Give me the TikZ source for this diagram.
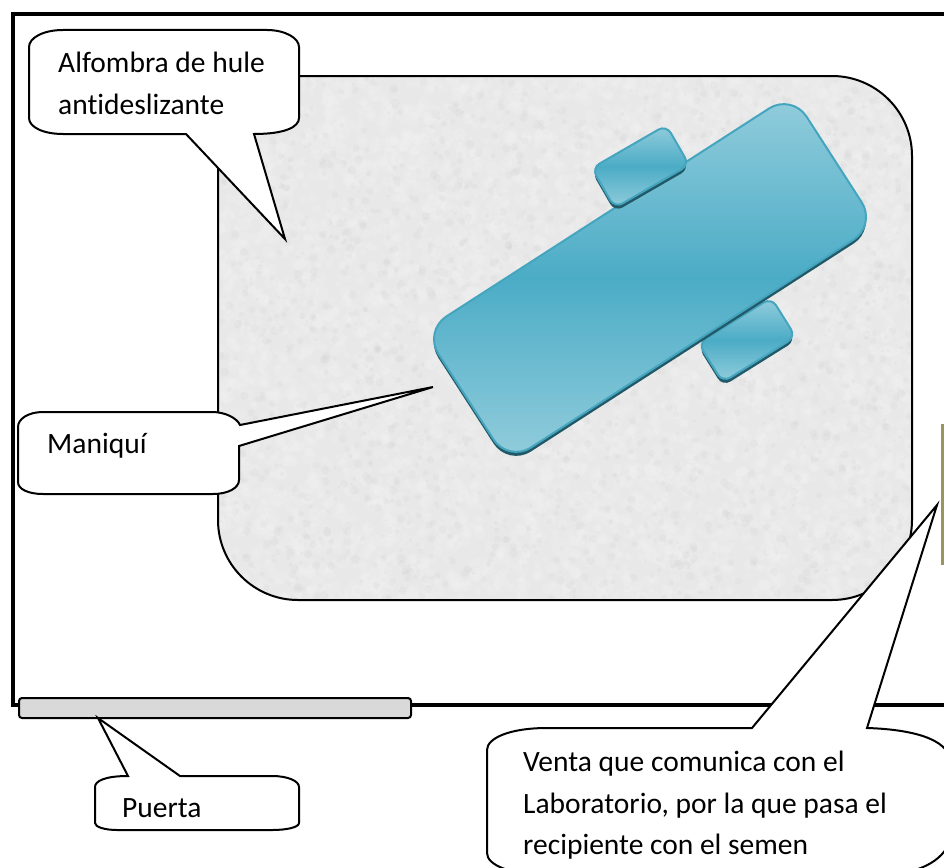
\documentclass[tikz,border=0pt]{standalone}
\usepackage{fontspec}
\setmainfont[Ligatures=NoCommon]{Carlito}
\usepackage{tikz}

\definecolor{boardlight}{HTML}{93CDDC}
\definecolor{boardmid}{HTML}{4BACC6}
\definecolor{boardline}{HTML}{45A5BF}
\definecolor{boarddark}{HTML}{215968}
\definecolor{ventana}{HTML}{9A9460}

\tikzset{
  wall/.style={line width=4pt},
  callout/.style={draw=black,fill=white,line width=2pt,line join=miter},
  calloutText/.style={inner sep=0pt,align=left,anchor=base west,font=\fontsize{29.5}{41}\selectfont},
  speck/.style={fill=#1,opacity=0.1}
}

% table top or pad: center x, center y, width, height, radius, angle, half range of the gradient
\newcommand{\boardpad}[7]{
  \fill[boarddark,rounded corners=#5,shift={(#1,#2+4)},rotate=#6] ({-#3/2},{-#4/2}) rectangle ({#3/2},{#4/2});
  \begin{scope}
    \clip[rounded corners=#5,shift={(#1,#2)},rotate=#6] ({-#3/2},{-#4/2}) rectangle ({#3/2},{#4/2});
    \shade[top color=boardlight,bottom color=boardlight,middle color=boardmid] (#1-300,#2-#7) rectangle (#1+300,#2+#7);
  \end{scope}
  \draw[boardline,line width=2pt,rounded corners=#5,shift={(#1,#2)},rotate=#6] ({-#3/2},{-#4/2}) rectangle ({#3/2},{#4/2});
}

\begin{document}
\begin{tikzpicture}[x=1pt,y=-1pt]

\useasboundingbox (0,0) rectangle (944,867);
\clip (0,0) rectangle (944,867);

% room
\draw[wall] (950,14) -- (13,14) -- (13,705) -- (950,705);

% carpet
\begin{scope}
  \clip[rounded corners=80] (218,76) rectangle (912,600);
  \fill[black!9] (218,76) rectangle (912,600);
  \pgfmathsetseed{4242}
  \foreach \layer in {1,...,10} {
    \fill[speck=white] \foreach \i in {1,...,500} { ({218+694*rnd},{76+524*rnd}) circle[radius={2.5+4*rnd}] };
    \fill[speck=black!25] \foreach \i in {1,...,180} { ({218+694*rnd},{76+524*rnd}) circle[radius={1.5+3*rnd}] };
  }
\end{scope}
\draw[line width=2pt,rounded corners=80] (218,76) rectangle (912,600);

% lower pad
\boardpad{747}{340}{86}{46}{9}{32}{42}

% table
\boardpad{650}{278}{438}{156}{27}{32.8}{184}

% upper pad
\boardpad{640.5}{166.5}{86}{46}{9}{30}{42}

% door
\draw[fill=black!15,line width=2pt,rounded corners=3] (19,698) rectangle (411,718);

% window
\fill[ventana] (941,424) rectangle (945,565);

% carpet label
\draw[callout] (63,30) -- (267,30) .. controls (285,30) and (299,38) .. (299,47) -- (299,118)
  .. controls (299,127) and (285,134) .. (254,134) -- (285,239) -- (186,134) -- (63,134)
  .. controls (43,134) and (29,127) .. (29,118) -- (29,47) .. controls (29,38) and (43,30) .. (63,30) -- cycle;
\node[calloutText] (alfombra) at (58,73) {Alfombra de hule};
\node[calloutText] (antidesl) at (58,114) {antideslizante};

% dummy label
\draw[callout] (43,412) -- (212,412) .. controls (225,412) and (237,418) .. (240,425) -- (433,387) -- (239,446)
  -- (239,480) .. controls (239,488) and (228,494) .. (213,494) -- (43,494)
  .. controls (28,494) and (18,489) .. (18,482) -- (18,427) .. controls (18,419) and (28,412) .. (43,412) -- cycle;
\node[calloutText] (maniqui) at (47,453) {Maniquí};

% door label
\draw[callout] (128,776) -- (98,718) -- (180,776) -- (272,776) .. controls (288,776) and (299,781) .. (299,787)
  -- (299,823) .. controls (299,827) and (288,830) .. (272,830) -- (117,830)
  .. controls (105,830) and (95,827) .. (95,823) -- (95,787) .. controls (95,781) and (105,776) .. (128,776) -- cycle;
\node[calloutText] (puerta) at (122,817) {Puerta};

% window label
\draw[callout] (547,728) -- (752,728) -- (937,505) -- (867,728) .. controls (900,729) and (944,735) .. (950,758)
  -- (950,840) .. controls (944,862) and (915,875) .. (880,875) -- (550,875)
  .. controls (510,875) and (487,865) .. (487,853) -- (487,750) .. controls (487,738) and (510,728) .. (547,728) -- cycle;
\node[calloutText] (venta) at (523,771) {Venta que comunica con el};
\node[calloutText] (labo) at (523,813) {Laboratorio, por la que pasa el};
\node[calloutText] (recip) at (523,854) {recipiente con el semen};

\end{tikzpicture}
\end{document}
